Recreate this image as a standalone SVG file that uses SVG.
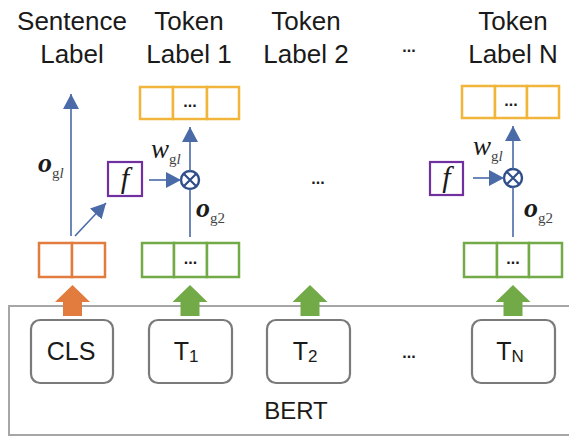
<svg xmlns="http://www.w3.org/2000/svg" width="569" height="436" viewBox="0 0 569 436">
<defs>
<style>
.lbl{font-family:"Liberation Sans",Arial,sans-serif;font-size:26px;fill:#1a1a1a;text-anchor:middle}
.tok{font-family:"Liberation Sans",Arial,sans-serif;font-size:25px;fill:#1a1a1a;text-anchor:middle}
.dots{font-family:"Liberation Sans",Arial,sans-serif;font-size:16px;font-weight:bold;fill:#1a1a1a;text-anchor:middle}
.math{font-family:"Liberation Serif","DejaVu Serif","Times New Roman",serif;fill:#1a1a1a}
.node{fill:#fff;stroke:#7a7a7a;stroke-width:2.2}
.cellY{fill:#fff;stroke:#f0b53a;stroke-width:2.5}
.cellG{fill:#fff;stroke:#72aa48;stroke-width:2.5}
.cellO{fill:#fff;stroke:#e27c3e;stroke-width:2.5}
.fbox{fill:#fff;stroke:#7030a0;stroke-width:2.2}
.blue{stroke:#4a6aa8;stroke-width:1.6;fill:none}
</style>
<marker id="ahb" viewBox="0 0 15 16" refX="15" refY="8" markerWidth="15" markerHeight="16" markerUnits="userSpaceOnUse" orient="auto">
<path d="M0,0 L15,8 L0,16 z" fill="#4a6aa8"/>
</marker>
</defs>

<!-- BERT container -->
<g id="bert">
<rect x="9" y="306" width="575" height="129" fill="#fff" stroke="#a6a6a6" stroke-width="2"/>
<text class="lbl" x="296" y="419" style="font-size:24px">BERT</text>
</g>

<!-- top labels -->
<g id="labels">
<text class="lbl" x="72" y="30">Sentence</text>
<text class="lbl" x="72" y="63">Label</text>
<text class="lbl" x="189" y="30">Token</text>
<text class="lbl" x="189" y="63">Label 1</text>
<text class="lbl" x="306" y="30">Token</text>
<text class="lbl" x="306" y="63">Label 2</text>
<text class="dots" x="409" y="52">...</text>
<text class="lbl" x="513" y="30">Token</text>
<text class="lbl" x="513" y="63">Label N</text>
</g>

<!-- token nodes -->
<g id="cls">
<rect class="node" x="31" y="320" width="82" height="63" rx="9"/>
<text class="tok" x="71" y="360">CLS</text>
</g>
<g id="t1">
<rect class="node" x="149" y="320" width="83" height="63" rx="9"/>
<text class="tok" x="186" y="360">T<tspan font-size="17" dy="2">1</tspan></text>
</g>
<g id="t2">
<rect class="node" x="267" y="320" width="83" height="63" rx="9"/>
<text class="tok" x="305" y="360">T<tspan font-size="17" dy="2">2</tspan></text>
</g>
<g id="dots-bert"><text class="dots" x="409" y="358">...</text></g>
<g id="tn">
<rect class="node" x="472" y="320" width="83" height="63" rx="9"/>
<text class="tok" x="510" y="360">T<tspan font-size="17" dy="2">N</tspan></text>
</g>

<!-- fat arrows -->
<g id="fat-arrows">
<path d="M63,316 L63,302 L55,302 L72.5,285 L90,302 L82,302 L82,316 z" fill="#e27c3e"/>
<path d="M180.5,316 L180.5,302 L172.5,302 L190,285 L207.5,302 L199.5,302 L199.5,316 z" fill="#72aa48"/>
<path d="M300.5,316 L300.5,302 L292.5,302 L310,285 L327.5,302 L319.5,302 L319.5,316 z" fill="#72aa48"/>
<path d="M503.5,316 L503.5,302 L495.5,302 L513,285 L530.5,302 L522.5,302 L522.5,316 z" fill="#72aa48"/>
</g>

<!-- embedding vectors -->
<g id="vec-cls">
<rect class="cellO" x="39" y="243" width="33" height="34"/>
<rect class="cellO" x="72" y="243" width="33" height="34"/>
</g>
<g id="vec-t1">
<rect class="cellG" x="142" y="243" width="32" height="34"/>
<rect class="cellG" x="174" y="243" width="33" height="34"/>
<rect class="cellG" x="207" y="243" width="32" height="34"/>
<text class="dots" x="190.5" y="264">...</text>
</g>
<g id="vec-tn">
<rect class="cellG" x="464" y="243" width="33" height="34"/>
<rect class="cellG" x="497" y="243" width="32" height="34"/>
<rect class="cellG" x="529" y="243" width="33" height="34"/>
<text class="dots" x="513" y="264">...</text>
</g>
<g id="out-t1">
<rect class="cellY" x="140" y="87" width="33" height="32"/>
<rect class="cellY" x="173" y="87" width="34" height="32"/>
<rect class="cellY" x="207" y="87" width="32" height="32"/>
<text class="dots" x="190" y="107">...</text>
</g>
<g id="out-tn">
<rect class="cellY" x="462" y="86" width="33" height="32"/>
<rect class="cellY" x="495" y="86" width="32" height="32"/>
<rect class="cellY" x="527" y="86" width="32" height="32"/>
<text class="dots" x="511" y="106">...</text>
</g>

<!-- f boxes -->
<g id="f1">
<rect class="fbox" x="108" y="162" width="34" height="34"/>
<text class="math" x="125" y="188" font-size="30" font-style="italic" text-anchor="middle" font-family="'Liberation Serif','DejaVu Serif',serif">f</text>
</g>
<g id="fn">
<rect class="fbox" x="430" y="162" width="33" height="33"/>
<text class="math" x="446.5" y="187" font-size="30" font-style="italic" text-anchor="middle" font-family="'Liberation Serif','DejaVu Serif',serif">f</text>
</g>

<!-- multiply nodes -->
<g id="mul1">
<circle cx="190" cy="180" r="9" fill="#fff" stroke="#2f4f8a" stroke-width="2.4"/>
<path d="M184,174 L196,186 M196,174 L184,186" stroke="#2f4f8a" stroke-width="2.2"/>
</g>
<g id="muln">
<circle cx="513" cy="178" r="9" fill="#fff" stroke="#2f4f8a" stroke-width="2.4"/>
<path d="M507,172 L519,184 M519,172 L507,184" stroke="#2f4f8a" stroke-width="2.2"/>
</g>

<g id="dots-mid"><text class="dots" x="318" y="184">...</text></g>

<!-- connectors -->
<g id="connectors">
<line class="blue" x1="71" y1="236" x2="71" y2="94" marker-end="url(#ahb)"/>
<line class="blue" x1="75" y1="236" x2="106" y2="203" marker-end="url(#ahb)"/>
<line class="blue" x1="149" y1="180" x2="181" y2="180" marker-end="url(#ahb)"/>
<line class="blue" x1="190" y1="237" x2="190" y2="189"/>
<line class="blue" x1="190" y1="171" x2="190" y2="127" marker-end="url(#ahb)"/>
<line class="blue" x1="473" y1="178" x2="504" y2="178" marker-end="url(#ahb)"/>
<line class="blue" x1="513" y1="237" x2="513" y2="187"/>
<line class="blue" x1="513" y1="169" x2="513" y2="126" marker-end="url(#ahb)"/>
</g>

<!-- math labels -->
<g id="math-labels" font-family="'Liberation Serif','DejaVu Serif',serif">
<text class="math" x="38" y="172" font-size="28" font-weight="bold" font-style="italic">o<tspan font-size="15" font-weight="normal" font-style="normal" fill="#444" dy="6">g<tspan font-style="italic">l</tspan></tspan></text>
<text class="math" x="151" y="158" font-size="27" font-style="italic">w<tspan font-size="15" font-style="normal" fill="#444" dy="6">g<tspan font-style="italic">l</tspan></tspan></text>
<text class="math" x="196" y="217" font-size="28" font-weight="bold" font-style="italic">o<tspan font-size="15" font-weight="normal" font-style="normal" fill="#444" dy="6">g2</tspan></text>
<text class="math" x="473" y="155" font-size="27" font-style="italic">w<tspan font-size="15" font-style="normal" fill="#444" dy="6">g<tspan font-style="italic">l</tspan></tspan></text>
<text class="math" x="524" y="217" font-size="28" font-weight="bold" font-style="italic">o<tspan font-size="15" font-weight="normal" font-style="normal" fill="#444" dy="6">g2</tspan></text>
</g>
</svg>
